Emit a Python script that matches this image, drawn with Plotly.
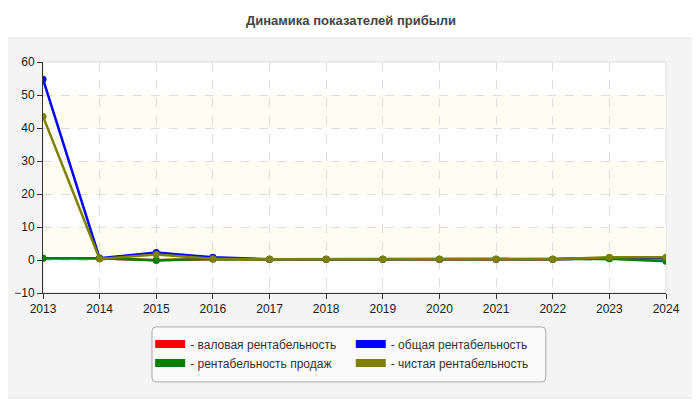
import plotly.graph_objects as go

# Data
years = list(range(2013, 2025))
gross_margin = [0.5, 0.5, -0.1, 0.3, 0.2, 0.2, 0.2, 0.2, 0.2, 0.2, 0.6, 0.5]
total_margin = [54.8, 0.5, 2.3, 0.8, 0.2, 0.2, 0.2, 0.2, 0.2, 0.2, 0.6, 0.6]
sales_margin = [0.5, 0.5, -0.1, 0.3, 0.2, 0.2, 0.2, 0.2, 0.2, 0.2, 0.4, -0.4]
net_margin = [43.5, 0.3, 1.7, 0.4, 0.2, 0.2, 0.2, 0.2, 0.2, 0.2, 0.8, 0.8]

# (name, values, colour, legend column)
series = [
    ('- валовая рентабельность', gross_margin, '#ff0000', 'legend'),
    ('- общая рентабельность', total_margin, '#0000ff', 'legend2'),
    ('- рентабельность продаж', sales_margin, '#008000', 'legend'),
    ('- чистая рентабельность', net_margin, '#808000', 'legend2'),
]

y_ticks = list(range(-10, 61, 10))

fig = go.Figure()
for name, vals, color, lg in series:
    fig.add_trace(go.Scatter(
        x=years, y=vals, name=name, mode='lines+markers',
        line=dict(color=color, width=2.5),
        marker=dict(color=color, size=7),
        showlegend=False,
    ))

# legend-only entries with thick swatches, split into two columns
for name, vals, color, lg in series:
    fig.add_trace(go.Scatter(
        x=[None], y=[None], name=name, mode='lines',
        line=dict(color=color, width=8), legend=lg,
    ))


def rounded_box(x0, y0, x1, y1, rx, ry):
    return (f'M {x0 + rx},{y0} L {x1 - rx},{y0} Q {x1},{y0} {x1},{y0 + ry} '
            f'L {x1},{y1 - ry} Q {x1},{y1} {x1 - rx},{y1} L {x0 + rx},{y1} '
            f'Q {x0},{y1} {x0},{y1 - ry} L {x0},{y0 + ry} Q {x0},{y0} {x0 + rx},{y0} Z')


# panel behind the chart
shapes = [dict(
    type='path', xref='paper', yref='paper',
    path=rounded_box(-0.066, -0.455, 1.051, 1.104, 0.01, 0.026),
    fillcolor='#f4f4f4', line=dict(color='#e2e2e2', width=1), layer='below',
)]
# plot area background + alternating bands
shapes.append(dict(
    type='rect', xref='paper', yref='paper', x0=0, x1=1, y0=0, y1=1,
    fillcolor='#fefefe', line=dict(color='#dddddd', width=1), layer='below',
))
for lo in y_ticks[1:-1:2]:
    shapes.append(dict(
        type='rect', xref='paper', yref='y', x0=0, x1=1, y0=lo, y1=lo + 10,
        fillcolor='#fdfdf2', line=dict(width=0), layer='below',
    ))
# legend frame
shapes.append(dict(
    type='path', xref='paper', yref='paper',
    path=rounded_box(0.175, -0.385, 0.807, -0.147, 0.0064, 0.0173),
    fillcolor='#fafafa', line=dict(color='#aaaaaa', width=1), layer='below',
))

legend_style = dict(
    orientation='v', yanchor='top', y=-0.158, xanchor='left',
    bgcolor='rgba(0,0,0,0)', borderwidth=0, tracegroupgap=0,
    font=dict(size=12, color='#333'), itemwidth=30,
)

fig.update_layout(
    width=700, height=400,
    margin=dict(l=35, r=42, t=54, b=115),
    paper_bgcolor='white',
    plot_bgcolor='rgba(0,0,0,0)',
    font=dict(family='Arial, Liberation Sans, sans-serif', size=12, color='#222'),
    title=dict(text='<b>Динамика показателей прибыли</b>', x=0.49, xanchor='center',
               y=0.97, yanchor='middle', font=dict(size=13, color='#444')),
    shapes=shapes,
    showlegend=True,
    legend=dict(x=0.172, **legend_style),
    legend2=dict(x=0.494, **legend_style),
    xaxis=dict(
        range=[2013, 2024], dtick=1, tick0=2013, automargin=False,
        showgrid=True, gridcolor='#dddddd', griddash='dash',
        showline=True, linecolor='#333', ticks='outside', ticklen=5,
        tickcolor='#333', zeroline=False, tickfont=dict(size=12, color='#222'),
    ),
    yaxis=dict(
        range=[-10, 60], tickvals=y_ticks, automargin=False,
        showgrid=True, gridcolor='#dddddd', griddash='dash',
        showline=True, linecolor='#333', ticks='outside', ticklen=5,
        tickcolor='#333', zeroline=False, tickfont=dict(size=12, color='#222'),
    ),
)

fig.write_html("out.html")
